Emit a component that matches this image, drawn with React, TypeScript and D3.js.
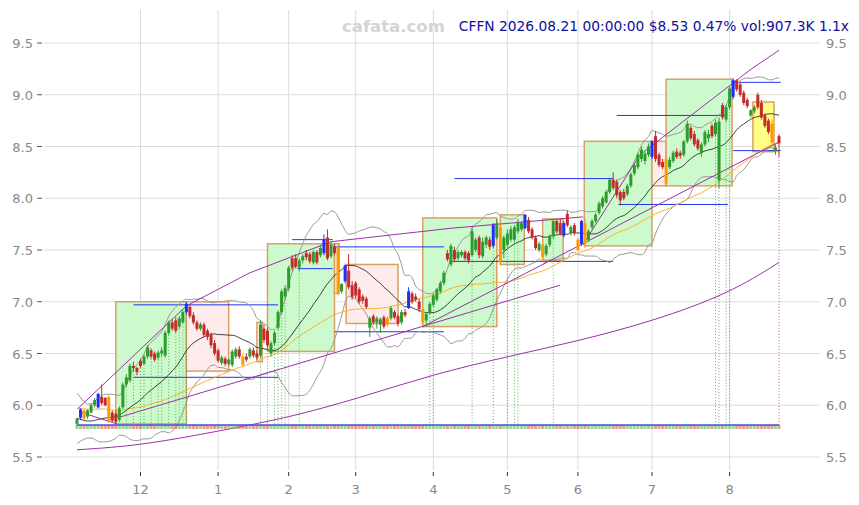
import React from 'react';
import * as d3 from 'd3';

const W = 859, H = 505;

// daily candles [open, high, low, close], 2025-11-04 .. 2026-08-21
const candles: number[][] = [
  [5.82,5.88,5.80,5.87],[5.88,5.97,5.86,5.96],[5.95,5.96,5.86,5.87],[5.89,5.96,5.87,5.95],[5.93,6.02,5.92,6.00],
  [6.00,6.07,5.98,6.05],[5.98,6.12,5.97,6.11],[6.08,6.20,6.00,6.02],[6.07,6.08,5.99,6.00],[6.08,6.10,5.83,5.84],
  [5.93,5.95,5.84,5.85],[5.92,5.95,5.82,5.84],[5.86,5.99,5.84,5.97],[5.98,6.22,5.96,6.20],[6.20,6.30,6.18,6.27],
  [6.24,6.40,6.22,6.38],[6.38,6.42,6.33,6.36],[6.36,6.37,6.29,6.32],[6.43,6.45,6.36,6.38],[6.40,6.49,6.39,6.47],
  [6.47,6.58,6.45,6.56],[6.53,6.55,6.45,6.47],[6.50,6.52,6.42,6.44],[6.46,6.53,6.44,6.51],[6.50,6.56,6.47,6.53],
  [6.48,6.72,6.46,6.70],[6.70,6.82,6.68,6.80],[6.80,6.83,6.72,6.74],[6.82,6.85,6.70,6.72],[6.76,6.86,6.74,6.84],
  [6.80,6.92,6.79,6.90],[6.90,7.00,6.88,6.98],[6.95,6.97,6.84,6.86],[6.87,6.90,6.78,6.80],[6.80,6.82,6.72,6.74],
  [6.74,6.80,6.72,6.78],[6.78,6.80,6.66,6.68],[6.72,6.74,6.63,6.66],[6.68,6.70,6.55,6.58],[6.60,6.63,6.48,6.50],
  [6.53,6.55,6.41,6.43],[6.41,6.48,6.39,6.46],[6.45,6.47,6.38,6.40],[6.40,6.45,6.38,6.44],[6.39,6.54,6.37,6.52],
  [6.47,6.56,6.45,6.54],[6.54,6.57,6.45,6.47],[6.47,6.49,6.38,6.39],[6.47,6.50,6.42,6.44],[6.47,6.56,6.45,6.54],
  [6.53,6.56,6.46,6.48],[6.50,6.53,6.44,6.46],[6.48,6.82,6.46,6.78],[6.74,6.78,6.60,6.63],[6.72,6.75,6.56,6.58],
  [6.50,6.62,6.47,6.60],[6.60,6.72,6.58,6.70],[6.75,6.92,6.73,6.90],[6.90,7.12,6.88,7.10],[7.05,7.16,7.02,7.13],
  [7.13,7.35,7.10,7.33],[7.42,7.45,7.30,7.33],[7.42,7.46,7.32,7.34],[7.33,7.42,7.30,7.40],[7.40,7.46,7.37,7.44],
  [7.47,7.50,7.40,7.43],[7.46,7.48,7.37,7.39],[7.38,7.50,7.36,7.48],[7.48,7.50,7.36,7.38],[7.45,7.54,7.43,7.52],
  [7.47,7.65,7.45,7.60],[7.62,7.70,7.40,7.42],[7.44,7.58,7.42,7.55],[7.53,7.56,7.45,7.47],[7.53,7.55,7.06,7.08],
  [7.10,7.18,7.08,7.17],[7.20,7.36,7.18,7.35],[7.30,7.46,7.12,7.14],[7.16,7.20,7.02,7.05],[7.18,7.20,7.03,7.06],
  [7.12,7.14,6.98,7.00],[7.05,7.07,6.98,7.01],[7.03,7.05,6.93,6.95],[6.75,6.86,6.66,6.84],[6.86,6.88,6.78,6.80],
  [6.80,6.86,6.74,6.84],[6.78,6.85,6.70,6.83],[6.85,6.87,6.74,6.76],[6.84,6.86,6.76,6.78],[6.84,6.96,6.82,6.94],
  [6.90,6.92,6.83,6.85],[6.86,6.88,6.76,6.79],[6.80,6.92,6.78,6.90],[6.90,6.93,6.85,6.87],[6.94,7.14,6.93,7.10],
  [7.08,7.10,6.98,7.00],[7.05,7.08,7.00,7.02],[7.00,7.03,6.90,6.93],[6.93,6.95,6.78,6.80],[6.82,6.90,6.76,6.88],
  [6.90,7.00,6.88,6.98],[6.97,7.08,6.95,7.06],[7.02,7.13,7.00,7.12],[7.10,7.20,7.08,7.18],[7.18,7.30,7.16,7.28],
  [7.47,7.50,7.39,7.41],[7.36,7.56,7.34,7.54],[7.50,7.53,7.38,7.41],[7.42,7.50,7.40,7.48],[7.45,7.50,7.43,7.48],
  [7.48,7.50,7.40,7.42],[7.47,7.49,7.37,7.40],[7.45,7.72,7.44,7.68],[7.50,7.62,7.48,7.60],[7.62,7.64,7.42,7.45],
  [7.44,7.62,7.42,7.58],[7.55,7.64,7.52,7.62],[7.60,7.63,7.50,7.53],[7.54,7.76,7.52,7.74],[7.62,7.80,7.60,7.76],
  [7.72,7.75,7.36,7.38],[7.50,7.64,7.42,7.62],[7.55,7.70,7.53,7.66],[7.60,7.73,7.58,7.70],[7.60,7.74,7.58,7.72],
  [7.68,7.80,7.66,7.76],[7.70,7.78,7.68,7.76],[7.71,7.85,7.70,7.84],[7.79,7.82,7.66,7.68],[7.70,7.72,7.60,7.62],
  [7.62,7.64,7.50,7.52],[7.50,7.58,7.48,7.56],[7.55,7.56,7.40,7.43],[7.46,7.56,7.44,7.54],[7.55,7.65,7.53,7.63],
  [7.63,7.80,7.61,7.78],[7.78,7.80,7.66,7.68],[7.76,7.80,7.64,7.66],[7.64,7.78,7.62,7.76],[7.85,7.88,7.72,7.74],
  [7.66,7.74,7.64,7.72],[7.74,7.76,7.64,7.66],[7.60,7.62,7.48,7.50],[7.56,7.79,7.54,7.78],[7.76,7.80,7.52,7.56],
  [7.60,7.70,7.58,7.68],[7.72,7.80,7.70,7.78],[7.78,7.86,7.76,7.84],[7.86,7.97,7.84,7.95],[7.92,8.02,7.90,8.00],
  [7.96,8.08,7.95,8.06],[8.06,8.20,8.04,8.18],[8.18,8.25,8.08,8.10],[8.16,8.18,8.00,8.03],[8.06,8.08,7.93,7.98],
  [8.06,8.09,7.98,8.00],[8.04,8.14,8.02,8.12],[8.12,8.25,8.10,8.23],[8.24,8.34,8.22,8.32],[8.30,8.44,8.28,8.42],
  [8.38,8.50,8.35,8.47],[8.36,8.45,8.33,8.43],[8.42,8.53,8.40,8.50],[8.40,8.56,8.38,8.55],[8.60,8.65,8.35,8.38],
  [8.42,8.44,8.30,8.32],[8.35,8.38,8.28,8.30],[8.38,8.40,8.12,8.14],[8.30,8.40,8.28,8.37],[8.36,8.46,8.34,8.44],
  [8.45,8.48,8.38,8.40],[8.44,8.46,8.38,8.41],[8.42,8.56,8.40,8.55],[8.55,8.75,8.53,8.72],[8.68,8.70,8.56,8.58],
  [8.62,8.65,8.50,8.52],[8.56,8.58,8.46,8.48],[8.44,8.54,8.40,8.52],[8.52,8.66,8.50,8.64],[8.58,8.66,8.54,8.62],
  [8.70,8.72,8.58,8.60],[8.62,8.76,8.60,8.73],[8.17,8.78,8.10,8.74],[8.90,8.92,8.76,8.78],[8.76,8.90,8.74,8.88],
  [8.88,9.08,8.86,9.06],[8.98,9.16,8.96,9.14],[9.14,9.15,9.03,9.05],[9.10,9.12,8.98,9.00],[9.02,9.04,8.90,8.92],
  [8.95,8.97,8.87,8.89],[8.80,8.86,8.78,8.85],[8.84,8.90,8.82,8.88],[9.00,9.02,8.86,8.88],[8.92,8.95,8.76,8.78],
  [8.80,8.82,8.68,8.70],[8.75,8.77,8.62,8.64],[8.72,8.76,8.52,8.54],[8.46,8.52,8.42,8.49],[8.60,8.62,8.40,8.53],
];

// closes before the first drawn candle, only used to warm up the averages
const preCloses = [
  5.95,6.0,6.05,6.1,6.08,6.02,5.98,6.0,6.04,6.08,6.1,6.06,6.0,5.96,5.98,6.02,6.05,6.08,6.1,6.05,
  6.0,5.97,5.99,6.03,6.06,6.04,6.0,5.98,6.02,6.04,
  6.12,6.15,6.1,6.05,6.0,5.95,5.92,5.88,5.85,5.8,5.75,5.72,5.7,5.74,5.78,5.82,5.86,5.9,5.84,5.8,
];

const holidays = ['2025-11-27','2025-12-25','2026-01-01','2026-01-19','2026-02-16','2026-04-03','2026-05-25','2026-06-19','2026-07-03'];
const yTicks = [5.5, 6, 6.5, 7, 7.5, 8, 8.5, 9, 9.5];

const heavyUp = [1, 6, 31, 70, 76, 94, 118, 127, 138, 143, 163, 186];
const heavyDown = [2, 9, 47, 74, 88, 98, 120, 132, 142, 144, 167, 197];
const signalUp = [14,16,18,19,21,23,24,26,28,29,30,31,52,54,56,57,58,59,63,100,101,112,118,122,124,125,135,181,182,184,185];
const signalDown = [199];

// [start idx, end idx, low, high, kind]
const boxes: [number, number, number, number, string][] = [
  [11, 31, 5.82, 7.0, 'up'], [31, 43, 6.33, 7.0, 'down'], [51, 52.5, 6.42, 6.8, 'down'],
  [54, 73, 6.52, 7.56, 'up'], [73, 74.3, 7.08, 7.56, 'down'], [76.3, 91, 6.79, 7.36, 'down'],
  [98, 119, 6.76, 7.81, 'up'], [120, 126.8, 7.36, 7.84, 'up'], [132, 137.8, 7.4, 7.8, 'up'],
  [143.8, 163, 7.54, 8.55, 'up'], [163, 167, 8.12, 8.55, 'down'], [167, 185.7, 8.12, 9.15, 'up'],
  [191.6, 197.6, 8.45, 8.93, 'hold'],
];

// [start idx, end idx, price]
const levels = [
  [16, 57, 6.97], [16, 57, 6.27], [61, 72.5, 7.6], [62.5, 72.5, 7.32], [72.5, 104, 7.53], [73, 104, 6.71],
  [105.5, 152, 7.39], [107, 152, 8.19], [153, 184, 8.8], [153.5, 184.5, 7.94], [186, 199.5, 9.12], [186, 199.5, 8.46],
];

// straight trend lines [idx1, price1, idx2, price2]
const trends = [
  [0.85, 5.935, 11.3, 5.82], [12.2, 5.886, 136.9, 7.16], [97.8, 6.756, 199, 8.543],
];

// bent trend lines through pivots [idx, price]
const upperTrend = [[0.3, 5.97], [31, 6.96], [49, 7.28], [72, 7.58], [106, 7.71], [143.4, 7.82]];
const lateTrend = [[143.4, 7.55], [159.6, 8.42], [190.8, 9.24], [199, 9.43]];

// long-term average, read at a few points [idx, price]
const longAvg = [[0, 5.57], [18, 5.61], [40, 5.75], [60, 5.88], [80, 6.07], [101, 6.3], [122, 6.47], [142, 6.62], [163, 6.81], [185, 7.08], [199, 7.38]];

const fmt = d3.timeFormat('%Y-%m-%d');
const dates: Date[] = [];
for (let d = new Date(2025, 10, 4); dates.length < candles.length; d.setDate(d.getDate() + 1)) {
  const dow = d.getDay();
  if (dow === 0 || dow === 6 || holidays.includes(fmt(d))) continue;
  dates.push(new Date(d));
}

export default function App() {
  const x = d3.scaleLinear().domain([0, candles.length - 1]).range([77, 779]);
  const y = d3.scaleLinear().domain([5.5, 9.5]).range([457, 43]);

  const all = preCloses.concat(candles.map(c => c[3]));
  const off = preCloses.length;
  const win = (n: number, i: number) => all.slice(off + i - n + 1, off + i + 1);
  const ma20 = candles.map((_, i) => d3.mean(win(20, i)) as number);
  const ma50 = candles.map((_, i) => d3.mean(win(50, i)) as number);
  const sd20 = candles.map((_, i) => {
    const w = win(20, i), m = d3.mean(w) as number;
    return Math.sqrt(d3.mean(w, v => (v - m) * (v - m)) as number);
  });

  const line = d3.line<number>().x((_, i) => x(i)).y(v => y(v)).curve(d3.curveMonotoneX);
  const ptLine = d3.line<number[]>().x(d => x(d[0])).y(d => y(d[1]));
  const longLine = d3.line<number[]>().x(d => x(d[0])).y(d => y(d[1])).curve(d3.curveBasis);

  const monthTicks = dates.map((d, i) => ({ d, i })).filter(({ d, i }) => i > 0 && d.getMonth() !== dates[i - 1].getMonth());

  const fillOf: Record<string, string> = { up: '#ccfacc', down: '#fdeceb', hold: '#ffff88' };
  const bw = 3;
  const colorOf = (c: number[], i: number) =>
    heavyUp.includes(i) ? '#1f2dff' : heavyDown.includes(i) ? '#ff9a00' : c[3] >= c[0] ? '#2e9b2e' : '#c42b2b';

  const font = 'DejaVu Sans, sans-serif';
  const purple = '#9b30a8';
  const stripY = y(5.81);

  return (
    <svg width={W} height={H} style={{ position: 'absolute', left: 0, top: 0, background: '#fff' }}>
      {/* grid */}
      {yTicks.map(t => (
        <g key={t}>
          <line x1={44} x2={820} y1={y(t)} y2={y(t)} stroke="#dcdcdc" strokeWidth={1} />
          <line x1={37} x2={42} y1={y(t)} y2={y(t)} stroke="#555" strokeWidth={1} />
          <text x={33} y={y(t) + 5} textAnchor="end" fontFamily={font} fontSize={13} fill="#888">{t.toFixed(1)}</text>
          <text x={826} y={y(t) + 5} fontFamily={font} fontSize={13} fill="#888">{t.toFixed(1)}</text>
        </g>
      ))}
      {monthTicks.map(({ d, i }) => (
        <g key={i}>
          <line x1={x(i)} x2={x(i)} y1={10} y2={470} stroke="#dcdcdc" strokeWidth={1} />
          <line x1={x(i)} x2={x(i)} y1={472} y2={476} stroke="#333" strokeWidth={1} />
          <text x={x(i)} y={494} textAnchor="middle" fontFamily={font} fontSize={13} fill="#888">{d.getMonth() + 1}</text>
        </g>
      ))}

      {/* boxes */}
      {boxes.map((b, k) => (
        <rect key={k} x={x(b[0])} y={y(b[3])} width={x(b[1]) - x(b[0])} height={y(b[2]) - y(b[3])}
          fill={fillOf[b[4]]} stroke="#d9a066" strokeWidth={1.5} />
      ))}

      {/* support / resistance levels */}
      {levels.map((l, k) => (
        <line key={k} x1={x(l[0])} x2={x(l[1])} y1={y(l[2])} y2={y(l[2])} stroke="#2233ee" strokeWidth={1} />
      ))}

      {/* bands and averages */}
      <path d={line(ma20.map((m, i) => m + 2 * sd20[i])) || ''} fill="none" stroke="#999" strokeWidth={1} />
      <path d={line(ma20.map((m, i) => m - 2 * sd20[i])) || ''} fill="none" stroke="#999" strokeWidth={1} />
      <path d={line(ma50) || ''} fill="none" stroke="#ffb12a" strokeWidth={1} />
      <path d={line(ma20) || ''} fill="none" stroke="#111" strokeWidth={0.8} />

      {/* trend lines */}
      {trends.map((t, k) => (
        <line key={k} x1={x(t[0])} y1={y(t[1])} x2={x(t[2])} y2={y(t[3])} stroke={purple} strokeWidth={1} />
      ))}
      <path d={ptLine(upperTrend) || ''} fill="none" stroke={purple} strokeWidth={1} />
      <path d={ptLine(lateTrend) || ''} fill="none" stroke={purple} strokeWidth={1} />
      <path d={longLine(longAvg) || ''} fill="none" stroke={purple} strokeWidth={1} />

      {/* signal markers */}
      {signalUp.map(i => (
        <line key={'s' + i} x1={x(i)} x2={x(i)} y1={y(candles[i][2])} y2={stripY} stroke="#3a9e3a" strokeWidth={0.8} strokeDasharray="1,2" />
      ))}
      {signalDown.map(i => (
        <line key={'r' + i} x1={x(i)} x2={x(i)} y1={y(candles[i][2])} y2={stripY} stroke="#d03030" strokeWidth={0.8} strokeDasharray="1,2" />
      ))}

      {/* volume strip */}
      {candles.map((c, i) => (
        <rect key={'v' + i} x={x(i) - bw / 2} y={stripY} width={bw} height={4}
          fill={c[3] >= c[0] ? '#5cb85c' : '#d9534f'} opacity={0.6} />
      ))}
      <line x1={x(0)} x2={x(candles.length - 1)} y1={stripY} y2={stripY} stroke="#4455cc" strokeWidth={1.5} />

      {/* candles */}
      {candles.map((c, i) => {
        const col = colorOf(c, i);
        const top = y(Math.max(c[0], c[3])), bot = y(Math.min(c[0], c[3]));
        return (
          <g key={'c' + i}>
            <line x1={x(i)} x2={x(i)} y1={y(c[1])} y2={y(c[2])} stroke={col} strokeWidth={1} />
            <rect x={x(i) - bw / 2} y={top} width={bw} height={Math.max(1, bot - top)} fill={col} />
          </g>
        );
      })}

      {/* header */}
      <text x={342} y={32} fontFamily={font} fontSize={16.5} fontWeight="bold" fill="#d4d4d4">cafata.com</text>
      <text x={849} y={31} textAnchor="end" fontFamily={font} fontSize={13.8} fill="#10109a">
        CFFN 2026.08.21 00:00:00 $8.53 0.47% vol:907.3K 1.1x
      </text>
    </svg>
  );
}
